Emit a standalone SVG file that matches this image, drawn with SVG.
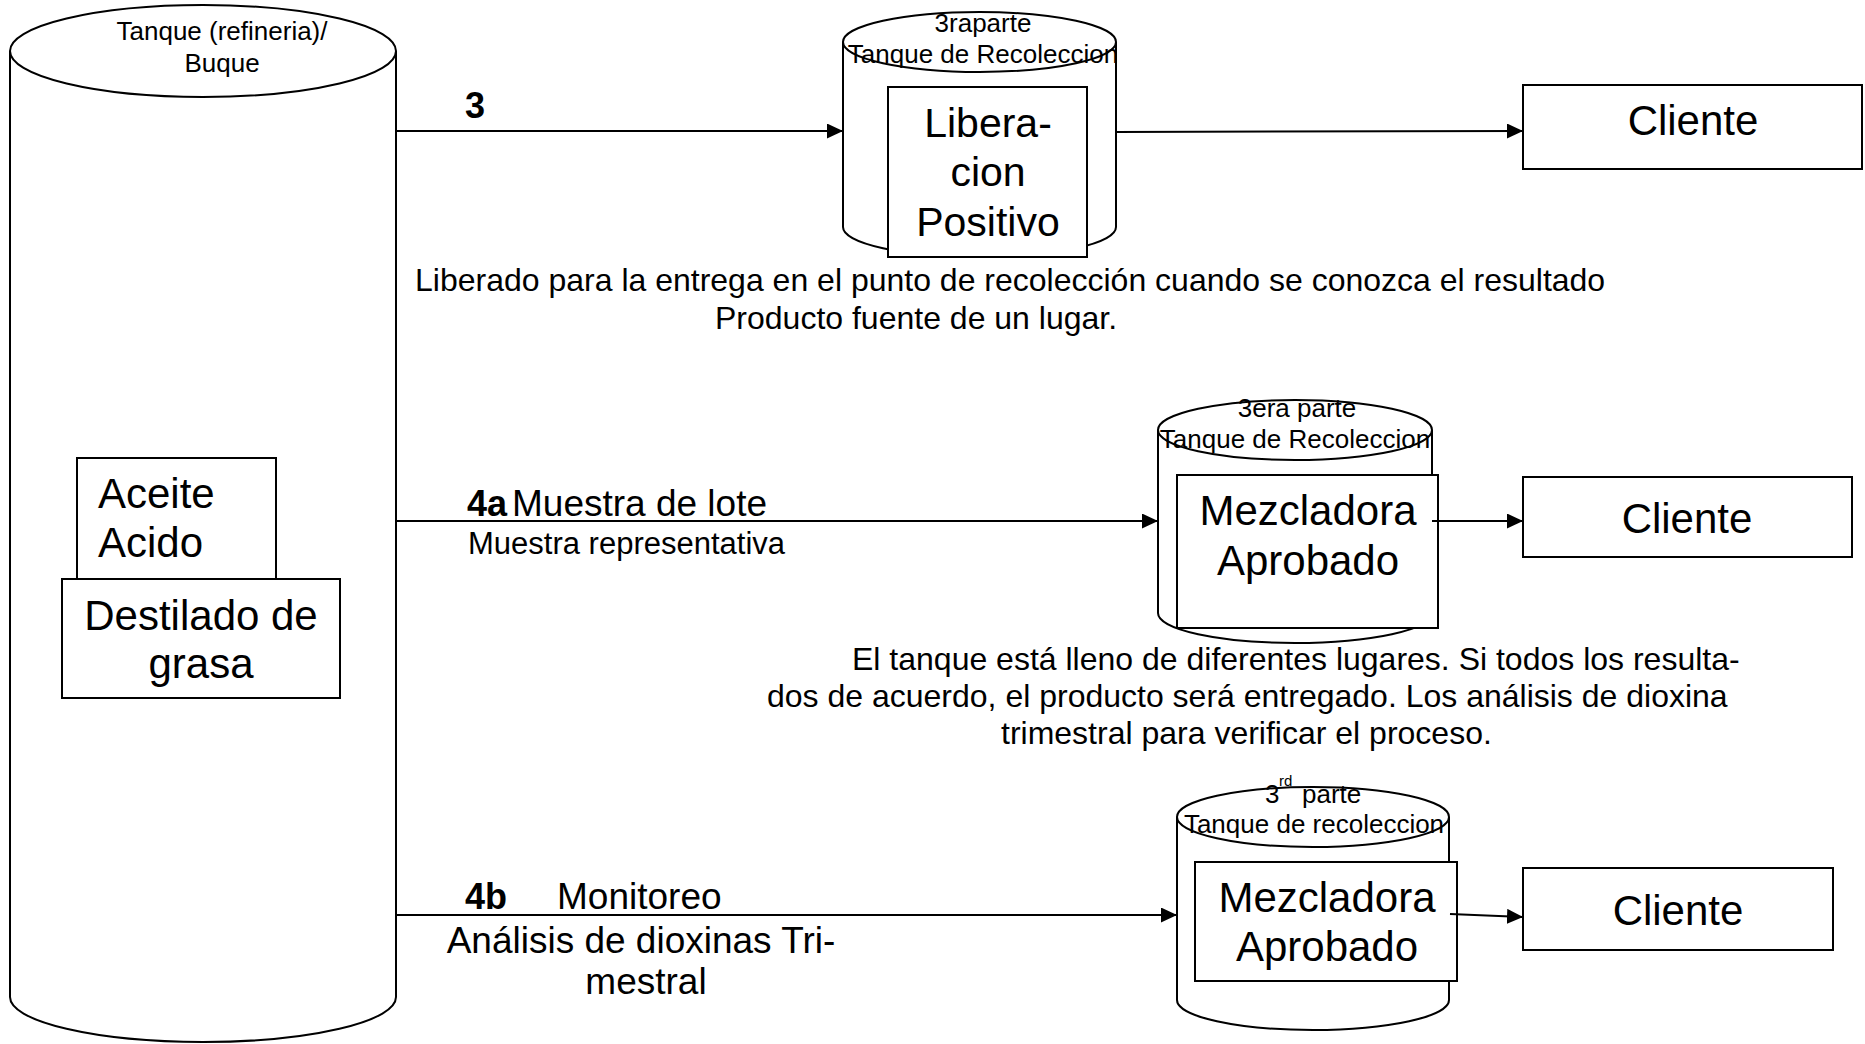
<svg xmlns="http://www.w3.org/2000/svg" width="1865" height="1044" viewBox="0 0 1865 1044">
<style>
.s{fill:#fff;stroke:#000;stroke-width:2}
.t{font-family:"Liberation Sans",Arial,sans-serif;fill:#000}
.m{text-anchor:middle}
.b{font-weight:bold}
.c{fill:none;stroke:#000;stroke-width:2}
</style>
<defs>
<marker id="ah" markerUnits="userSpaceOnUse" markerWidth="17" markerHeight="16" refX="16" refY="7.5" orient="auto">
<path d="M0,0 L16,7.5 L0,15 z" fill="#000"/>
</marker>
</defs>
<rect width="1865" height="1044" fill="#fff"/>

<g id="tanque-refineria">
<path class="s" d="M10,51 L10,997 A193,45 0 0 0 396,997 L396,51"/>
<ellipse class="s" cx="203" cy="51" rx="193" ry="46"/>
<text class="t m" x="222" y="40" font-size="26">Tanque (refineria)/</text>
<text class="t m" x="222" y="72" font-size="26">Buque</text>
</g>

<g id="aceite-acido">
<rect class="s" x="77" y="458" width="199" height="121"/>
<text class="t" x="98" y="508" font-size="42">Aceite</text>
<text class="t" x="98" y="557" font-size="42">Acido</text>
</g>

<g id="destilado">
<rect class="s" x="62" y="579" width="278" height="119"/>
<text class="t m" x="201" y="630" font-size="42">Destilado de</text>
<text class="t m" x="201" y="678" font-size="42">grasa</text>
</g>

<g id="tanque-recoleccion-1">
<path class="s" d="M843,42 L843,227 A136.5,30 0 0 0 1116,227 L1116,42"/>
<ellipse class="s" cx="979.5" cy="42" rx="136.5" ry="30"/>
<text class="t m" x="983" y="32" font-size="26">3raparte</text>
<text class="t m" x="983" y="63" font-size="26">Tanque de Recoleccion</text>
<rect class="s" x="888" y="87" width="199" height="170"/>
<text class="t m" x="988" y="137" font-size="41">Libera-</text>
<text class="t m" x="988" y="186" font-size="41">cion</text>
<text class="t m" x="988" y="236" font-size="41">Positivo</text>
</g>

<g id="cliente-1">
<rect class="s" x="1523" y="85" width="339" height="84"/>
<text class="t m" x="1693" y="135" font-size="42">Cliente</text>
</g>

<g id="tanque-recoleccion-2">
<path class="s" d="M1158,430 L1158,613 A137,30 0 0 0 1432,613 L1432,430"/>
<ellipse class="s" cx="1295" cy="430" rx="137" ry="30"/>
<text class="t m" x="1297" y="417" font-size="26">3era parte</text>
<text class="t m" x="1295" y="448" font-size="26">Tanque de Recoleccion</text>
<rect class="s" x="1177" y="475" width="261" height="153"/>
<text class="t m" x="1308" y="525" font-size="42">Mezcladora</text>
<text class="t m" x="1308" y="575" font-size="42">Aprobado</text>
</g>

<g id="cliente-2">
<rect class="s" x="1523" y="477" width="329" height="80"/>
<text class="t m" x="1687" y="533" font-size="42">Cliente</text>
</g>

<g id="tanque-recoleccion-3">
<path class="s" d="M1177,817 L1177,1000 A136,30 0 0 0 1449,1000 L1449,817"/>
<ellipse class="s" cx="1313" cy="817" rx="136" ry="30"/>
<text class="t" x="1265" y="803" font-size="26">3</text>
<text class="t" x="1279" y="786" font-size="15">rd</text>
<text class="t" x="1302" y="803" font-size="26">parte</text>
<text class="t m" x="1314" y="833" font-size="26">Tanque de recoleccion</text>
<rect class="s" x="1195" y="862" width="262" height="119"/>
<text class="t m" x="1327" y="912" font-size="42">Mezcladora</text>
<text class="t m" x="1327" y="961" font-size="42">Aprobado</text>
</g>

<g id="cliente-3">
<rect class="s" x="1523" y="868" width="310" height="82"/>
<text class="t m" x="1678" y="925" font-size="42">Cliente</text>
</g>

<g id="connectors">
<path class="c" d="M396,131 L843,131" marker-end="url(#ah)"/>
<path class="c" d="M1116,132 L1523,131" marker-end="url(#ah)"/>
<path class="c" d="M396,521 L1158,521" marker-end="url(#ah)"/>
<path class="c" d="M1432,521 L1523,521" marker-end="url(#ah)"/>
<path class="c" d="M396,915 L1177,915" marker-end="url(#ah)"/>
<path class="c" d="M1450,914 L1523,917" marker-end="url(#ah)"/>
</g>

<g id="labels">
<text class="t b" x="465" y="118" font-size="36">3</text>
<text class="t" x="415" y="291" font-size="32">Liberado para la entrega en el punto de recolección cuando se conozca el resultado</text>
<text class="t" x="715" y="329" font-size="32">Producto fuente de un lugar.</text>
<text class="t b" x="467" y="516" font-size="36">4a</text>
<text class="t" x="512" y="516" font-size="37">Muestra de lote</text>
<text class="t" x="468" y="554" font-size="31">Muestra representativa</text>
<text class="t" x="852" y="670" font-size="32">El tanque está lleno de diferentes lugares. Si todos los resulta-</text>
<text class="t" x="767" y="707" font-size="32">dos de acuerdo, el producto será entregado. Los análisis de dioxina</text>
<text class="t" x="1001" y="744" font-size="32">trimestral para verificar el proceso.</text>
<text class="t b" x="465" y="909" font-size="36">4b</text>
<text class="t" x="557" y="909" font-size="37">Monitoreo</text>
<text class="t m" x="641" y="953" font-size="37">Análisis de dioxinas Tri-</text>
<text class="t m" x="646" y="994" font-size="37">mestral</text>
</g>
</svg>
